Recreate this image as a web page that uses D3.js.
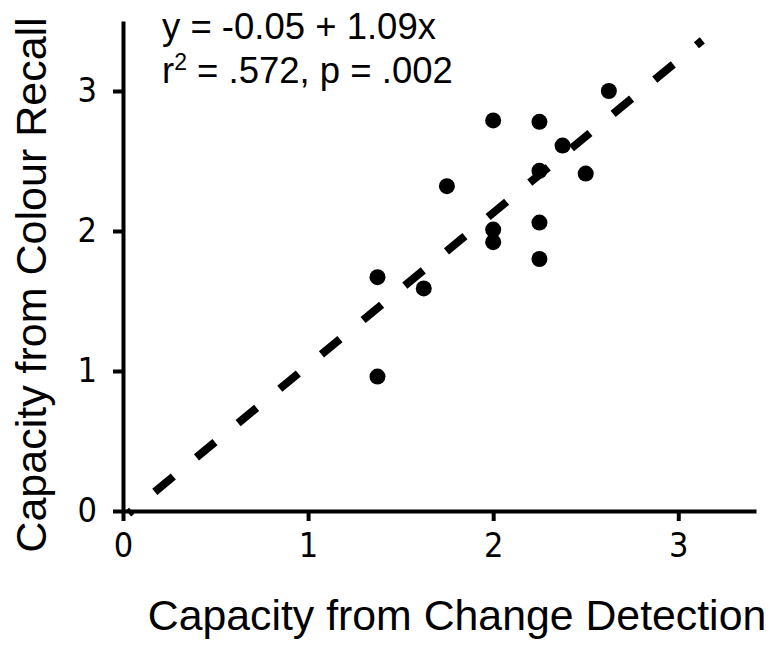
<!DOCTYPE html>
<html><head><meta charset="utf-8">
<script src="https://cdn.jsdelivr.net/npm/d3@7"></script>
<style>body{margin:0;background:#fff}</style>
</head><body>
<svg id="c" width="773" height="645"></svg>
<script>
const xVals = [1.375, 1.375, 1.625, 1.75, 2.0, 2.0, 2.0, 2.25, 2.25, 2.25, 2.25, 2.375, 2.5, 2.625];
const yVals = [1.67, 0.96, 1.59, 2.32, 2.79, 2.01, 1.92, 2.78, 2.43, 2.06, 1.80, 2.61, 2.41, 3.00];
const xTicks = [0, 1, 2, 3];
const yTicks = [0, 1, 2, 3];
const fitIntercept = -0.05, fitSlope = 1.09;
const fitRange = [0.03, 3.13];
const eqLine1 = "y = -0.05 + 1.09x";
const xTitle = "Capacity from Change Detection";
const yTitle = "Capacity from Colour Recall";

const svg = d3.select("#c");
const x = d3.scaleLinear().domain([0, 3.42]).range([123, 756]);
const y = d3.scaleLinear().domain([0, 3.5]).range([511, 21]);
const tickFont = "'DejaVu Sans Condensed','DejaVu Sans',sans-serif";
const txtFont = "'Liberation Sans',Arial,sans-serif";

const gx = svg.append("g").attr("transform", `translate(0,${y(0)})`)
  .call(d3.axisBottom(x).tickValues(xTicks).tickFormat(d3.format("d")).tickSize(10).tickSizeOuter(0).tickPadding(12));
const gy = svg.append("g").attr("transform", `translate(${x(0)},0)`)
  .call(d3.axisLeft(y).tickValues(yTicks).tickFormat(d3.format("d")).tickSize(10).tickSizeOuter(0).tickPadding(16));
[gx, gy].forEach(g => {
  g.select(".domain").attr("stroke", "#000").attr("stroke-width", 4);
  g.selectAll(".tick line").attr("stroke", "#000").attr("stroke-width", 4);
  g.selectAll(".tick text").attr("fill", "#000").style("font-family", tickFont).style("font-size", "34px");
});

// regression line
svg.append("line")
  .attr("x1", x(fitRange[0])).attr("y1", y(fitIntercept + fitSlope * fitRange[0]))
  .attr("x2", x(fitRange[1])).attr("y2", y(fitIntercept + fitSlope * fitRange[1]))
  .attr("stroke", "#000").attr("stroke-width", 8)
  .attr("stroke-dasharray", "24,30").attr("stroke-dashoffset", 20);

// points
svg.append("g").selectAll("circle").data(xVals.map((d, i) => [d, yVals[i]])).join("circle")
  .attr("cx", d => x(d[0])).attr("cy", d => y(d[1])).attr("r", 8).attr("fill", "#000");

// equation text
svg.append("text").attr("x", 162).attr("y", 39).style("font-family", txtFont).style("font-size", "36.5px").text(eqLine1);
const t2 = svg.append("text").attr("x", 162).attr("y", 83).style("font-family", txtFont).style("font-size", "36.5px");
t2.append("tspan").text("r");
t2.append("tspan").attr("dy", -13).style("font-size", "23px").text("2");
t2.append("tspan").attr("dy", 13).text(" = .572, p = .002");

// axis titles
svg.append("text").attr("x", 457).attr("y", 630).attr("text-anchor", "middle")
  .style("font-family", txtFont).style("font-size", "42.8px").text(xTitle);
svg.append("text").attr("transform", `translate(46,${285}) rotate(-90)`).attr("text-anchor", "middle")
  .style("font-family", txtFont).style("font-size", "43px").text(yTitle);
</script>
</body></html>
